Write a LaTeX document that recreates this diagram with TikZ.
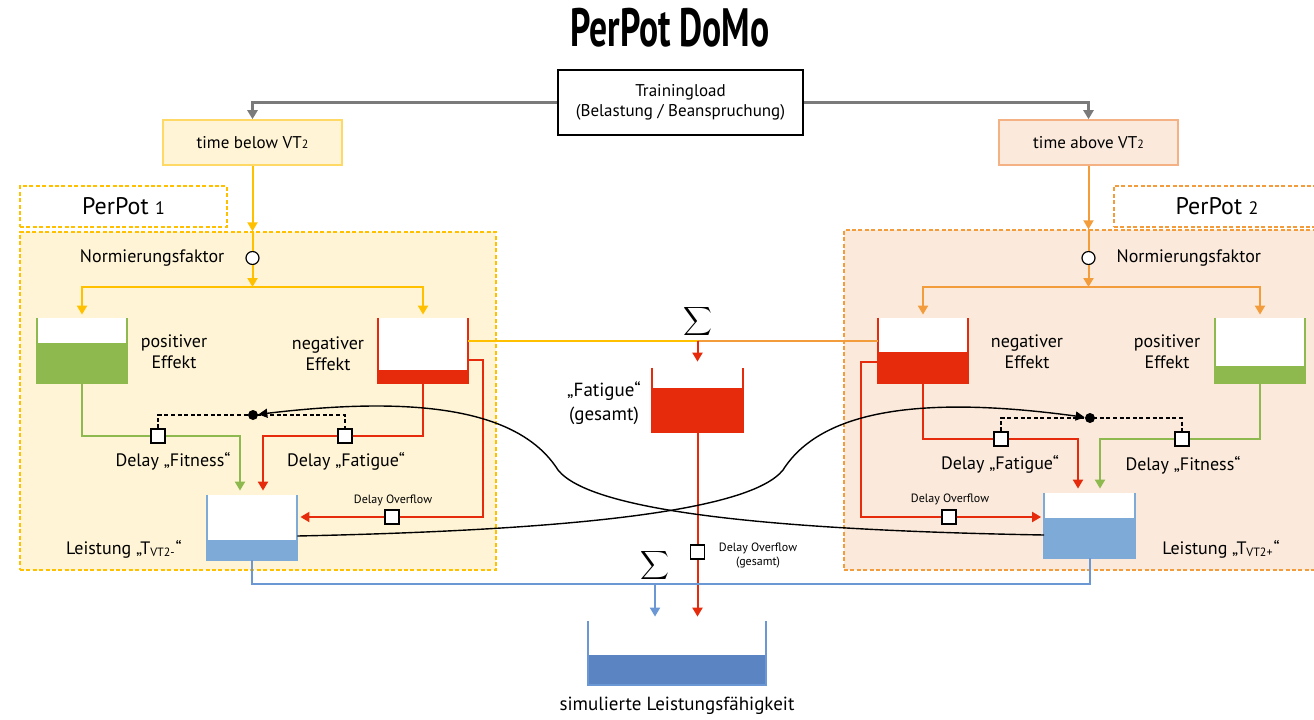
\documentclass[tikz,border=0pt]{standalone}
\usepackage{fontspec}
\setmainfont{PT Sans}
\usepackage{graphicx}
\usetikzlibrary{arrows.meta, calc, positioning}

\definecolor{yel}{HTML}{FFC000}
\definecolor{yelfill}{HTML}{FFF5D6}
\definecolor{yelbox}{HTML}{FFD966}
\definecolor{org}{HTML}{F39C3C}
\definecolor{orgfill}{HTML}{FBEADB}
\definecolor{orgbox}{HTML}{F4B183}
\definecolor{fred}{HTML}{E62B0C}
\definecolor{fgreen}{HTML}{8DB94E}
\definecolor{lblue}{HTML}{7EAAD8}
\definecolor{dblue}{HTML}{5B84C2}
\definecolor{bline}{HTML}{6B98D4}
\definecolor{lgray}{HTML}{7A7A7A}

\begin{document}
\begin{tikzpicture}[
  x=0.5pt, y=-0.5pt,
  font=\fontsize{9}{10.5}\selectfont,
  loadbox/.style={
    rectangle,
    draw=black,
    line width=0.8pt,
    minimum width=122.5pt,
    minimum height=32.5pt,
    align=center,
    font=\fontsize{8.5}{10}\selectfont
  },
  vtbox/.style={
    rectangle,
    draw=#1box,
    fill=#1fill,
    line width=0.8pt,
    minimum width=89.5pt,
    minimum height=22.5pt,
    font=\fontsize{8.5}{10}\selectfont
  },
  potbox/.style={
    rectangle,
    draw=#1,
    line width=0.7pt,
    dash pattern=on 2pt off 1.2pt,
    inner sep=0pt
  },
  tank/.style={
    rectangle,
    fill=white,
    inner sep=0pt,
    minimum width=45pt,
    minimum height=32.5pt
  },
  wall/.style={draw=#1, line width=1pt},
  flow/.style={draw=#1, line width=1pt},
  flowarrow/.style={flow=#1, -{Triangle[width=5pt,length=4.5pt]}},
  delay/.style={
    rectangle,
    draw=black,
    fill=white,
    line width=0.6pt,
    minimum size=7pt,
    inner sep=0pt
  },
  norm/.style={circle, draw=black, fill=white, line width=0.6pt, minimum size=6.5pt, inner sep=0pt},
  knot/.style={circle, fill=black, minimum size=5pt, inner sep=0pt},
  link/.style={draw=black, line width=0.6pt, dash pattern=on 2pt off 1.3pt},
  feedback/.style={draw=black, line width=0.7pt, -{Triangle[width=4.5pt,length=4.5pt]}},
  lbl/.style={align=center},
  smalltxt/.style={font=\fontsize{6}{7}\selectfont, align=center}
]
\clip (0,0) rectangle (1314,719);

% Title and training load
\node[font=\fontsize{27}{30}\selectfont\bfseries] (title) at (670,28) {\scalebox{0.66}[1]{PerPot DoMo}};
\node[loadbox] (load) at (680.5,102.5) {Trainingload\\(Belastung / Beanspruchung)};
\node[vtbox=yel] (below) at (252.5,142.5) {time below VT{\fontsize{6}{7}\selectfont 2}};
\node[vtbox=org] (above) at (1088.5,142.5) {time above VT{\fontsize{6}{7}\selectfont 2}};

% PerPot areas
\node[potbox=yel, fill=yelfill, minimum width=238pt, minimum height=169pt] (pp1) at (258,401) {};
\node[potbox=yel, fill=white, minimum width=103.5pt, minimum height=20.5pt, font=\fontsize{12}{14}\selectfont] (pp1lbl) at (123.5,206.5) {PerPot {\fontsize{9}{10}\selectfont 1}};
\node[potbox=org, fill=orgfill, minimum width=238pt, minimum height=170pt] (pp2) at (1082,400) {};
\node[potbox=org, fill=white, minimum width=103pt, minimum height=20.5pt, font=\fontsize{12}{14}\selectfont] (pp2lbl) at (1217,206.5) {PerPot {\fontsize{9}{10}\selectfont 2}};

\draw[flowarrow=lgray, line width=1.2pt] (load.west) -| (below.north);
\draw[flowarrow=lgray, line width=1.2pt] (load.east) -| (above.north);

% Tanks
\node[tank] (pos1) at (82,350.5) {};
\fill[fgreen] (pos1.south west) rectangle ($(pos1.south east)+(0,-40)$);
\draw[wall=fgreen] (pos1.north west) |- (pos1.south east) -- (pos1.north east);
\node[tank] (neg1) at (423,350.5) {};
\fill[fred] (neg1.south west) rectangle ($(neg1.south east)+(0,-13)$);
\draw[wall=fred] (neg1.north west) |- (neg1.south east) -- (neg1.north east);
\node[tank] (neg2) at (923,350.5) {};
\fill[fred] (neg2.south west) rectangle ($(neg2.south east)+(0,-31)$);
\draw[wall=fred] (neg2.north west) |- (neg2.south east) -- (neg2.north east);
\node[tank] (pos2) at (1260,350.5) {};
\fill[fgreen] (pos2.south west) rectangle ($(pos2.south east)+(0,-17)$);
\draw[wall=fgreen] (pos2.north west) |- (pos2.south east) -- (pos2.north east);
\node[tank] (lst1) at (252,527.5) {};
\fill[lblue] (lst1.south west) rectangle ($(lst1.south east)+(0,-20)$);
\draw[wall=lblue] (lst1.north west) |- (lst1.south east) -- (lst1.north east);
\node[tank] (lst2) at (1089.5,525.5) {};
\fill[lblue] (lst2.south west) rectangle ($(lst2.south east)+(0,-40)$);
\draw[wall=lblue] (lst2.north west) |- (lst2.south east) -- (lst2.north east);
\node[tank, minimum width=45.5pt, minimum height=32pt] (fat) at (697.5,400) {};
\fill[fred] (fat.south west) rectangle ($(fat.south east)+(0,-44)$);
\draw[wall=fred] (fat.north west) |- (fat.south east) -- (fat.north east);
\node[tank, minimum width=89pt, minimum height=32pt] (sim) at (677,653) {};
\fill[dblue] (sim.south west) rectangle ($(sim.south east)+(0,-30)$);
\draw[wall=bline] (sim.north west) |- (sim.south east) -- (sim.north east);

% Normierung and splitting
\node[norm] (norm1) at (252.5,258) {};
\node[norm] (norm2) at (1088.5,258) {};
\coordinate (split1) at (252.5,287);
\coordinate (split2) at (1088.5,287);
\draw[flowarrow=yel] (below.south) -- (below.south |- pp1.north);
\draw[flow=yel] (below.south |- pp1.north) -- (norm1);
\draw[flowarrow=yel] (norm1) -- (split1);
\draw[flowarrow=yel, shorten >=1.5pt] (split1) -| (pos1.north);
\draw[flowarrow=yel, shorten >=1.5pt] (split1) -| (neg1.north);
\draw[flowarrow=org] (above.south) -- (above.south |- pp2.north);
\draw[flow=org] (above.south |- pp2.north) -- (norm2);
\draw[flowarrow=org] (norm2) -- (split2);
\draw[flowarrow=org, shorten >=1.5pt] (split2) -| (neg2.north);
\draw[flowarrow=org, shorten >=1.5pt] (split2) -| (pos2.north);

% Delays
\node[delay] (dF1) at (158,436) {};
\node[delay] (dT1) at (345,436) {};
\node[delay] (dO1) at (392,517) {};
\node[delay] (dT2) at (1001,439) {};
\node[delay] (dF2) at (1182,439) {};
\node[delay] (dO2) at (949,517) {};
\node[delay] (dOg) at (697.5,552) {};

\draw[flow=fgreen] (pos1.south) |- (dF1.west);
\draw[flowarrow=fgreen, shorten >=2pt] (dF1.east) -| ([xshift=-6pt]lst1.north);
\draw[flow=fred] (neg1.south) |- (dT1.east);
\draw[flowarrow=fred, shorten >=2pt] (dT1.west) -| ([xshift=5.5pt]lst1.north);
\coordinate (ov1) at (483,360);
\draw[flow=fred] (neg1.east |- ov1) -- (ov1) |- (dO1.east);
\draw[flowarrow=fred, shorten >=1.5pt] (dO1.west) -- (lst1.east |- dO1);

\draw[flow=fred] (neg2.south) |- (dT2.west);
\draw[flowarrow=fred, shorten >=2pt] (dT2.east) -| ([xshift=-5.75pt]lst2.north);
\draw[flow=fgreen] (pos2.south) |- (dF2.east);
\draw[flowarrow=fgreen, shorten >=2pt] (dF2.west) -| ([xshift=5.25pt]lst2.north);
\coordinate (ov2) at (861,362);
\draw[flow=fred] (neg2.west |- ov2) -- (ov2) |- (dO2.west);
\draw[flowarrow=fred, shorten >=1.5pt] (dO2.east) -- (lst2.west |- dO2);

% Total fatigue
\coordinate (sumF) at (697.5,341);
\draw[flow=yel] (neg1.east |- sumF) -- (sumF);
\draw[flow=org] (neg2.west |- sumF) -- (sumF);
\draw[flowarrow=fred, shorten >=3pt] (sumF) -- (fat.north);
\draw[flow=fred] (fat.south) -- (dOg.north);
\draw[flowarrow=fred, shorten >=2pt] (dOg.south) -- (dOg.south |- sim.north);

% Total performance
\coordinate (sumP) at (655,584);
\draw[flow=bline] (lst1.south) |- (sumP) -| (lst2.south);
\draw[flowarrow=bline, shorten >=2pt] (sumP) -- (sumP |- sim.north);

% Coupling of delays
\coordinate (k1) at (253,415);
\coordinate (k2) at (1090,418);
\draw[link] (dF1.north) |- (k1) -| (dT1.north);
\draw[link] (dT2.north) |- (k2) -| (dF2.north);
\node[knot] (knot1) at (k1) {};
\node[knot] (knot2) at (k2) {};
\draw[feedback] ([yshift=-4.25pt]lst1.east) .. controls (581,530) and (751,510) .. (783,470) .. controls (821,410) and (921,395) .. (knot2);
\draw[feedback] ([yshift=-4.75pt]lst2.west) .. controls (760,530) and (590,510) .. (558,470) .. controls (520,410) and (420,395) .. (knot1);

% Labels
\node[left=7pt of norm1] (norm1lbl) {Normierungsfaktor};
\node[right=7pt of norm2] (norm2lbl) {Normierungsfaktor};
\node[lbl] (pos1lbl) at (174,352) {positiver\\Effekt};
\node[lbl] (neg1lbl) at (328,354) {negativer\\Effekt};
\node[lbl] (neg2lbl) at (1027,352) {negativer\\Effekt};
\node[lbl] (pos2lbl) at (1167,352) {positiver\\Effekt};
\node (dF1lbl) at (173,461) {Delay „Fitness“};
\node (dT1lbl) at (346,461) {Delay „Fatigue“};
\node (dT2lbl) at (1000,464) {Delay „Fatigue“};
\node (dF2lbl) at (1183,465) {Delay „Fitness“};
\node[smalltxt] (dO1lbl) at (393,500) {Delay Overflow};
\node[smalltxt] (dO2lbl) at (950,499) {Delay Overflow};
\node[smalltxt] (dOglbl) at (758,556) {Delay Overflow\\(gesamt)};
\node (lst1lbl) at (124,549) {Leistung „T\textsubscript{VT2-}“};
\node (lst2lbl) at (1221,549) {Leistung „T\textsubscript{VT2+}“};
\node[lbl, font=\fontsize{9.5}{12}\selectfont] (fatlbl) at (604,403) {„Fatigue“\\(gesamt)};
\node[font=\fontsize{9.5}{11}\selectfont] (simlbl) at (677,706) {simulierte Leistungsfähigkeit};
\node[font=\fontsize{10}{12}\selectfont] (sigF) at (697.5,321) {$\displaystyle\sum$};
\node[font=\fontsize{10}{12}\selectfont] (sigP) at (655,565) {$\displaystyle\sum$};
\end{tikzpicture}
\end{document}
